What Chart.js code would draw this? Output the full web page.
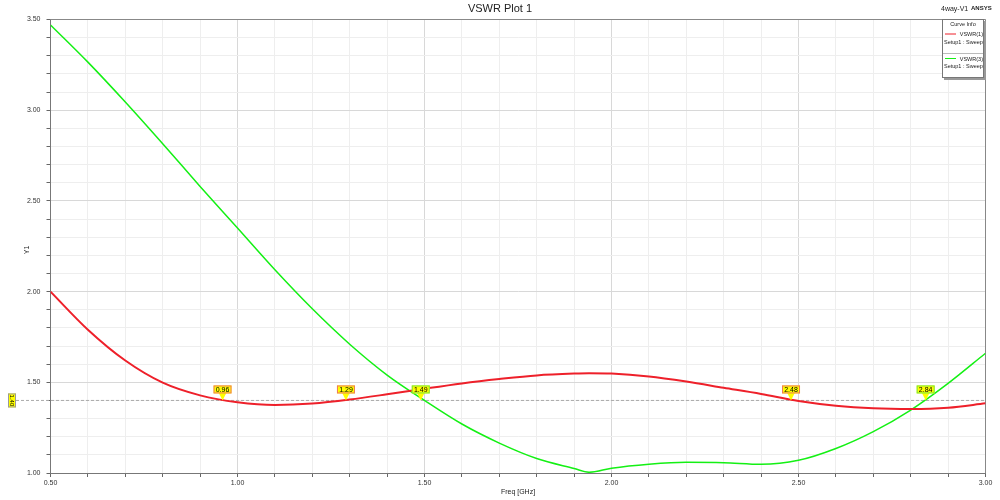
<!DOCTYPE html>
<html>
<head>
<meta charset="utf-8">
<script src="https://cdn.jsdelivr.net/npm/chart.js@4.4.0/dist/chart.umd.min.js"></script>
<style>
  body { margin: 0; background: #fff; }
  #wrap { width: 1000px; height: 500px; }
</style>
</head>
<body>
<div id="wrap"><canvas id="vswrChart" width="1000" height="500"></canvas></div>
<script>
// Frekans noktaları (GHz)
const freqs = [0.5, 0.6, 0.7, 0.8, 0.9, 1.0, 1.1, 1.2, 1.3, 1.4, 1.5, 1.6, 1.7, 1.8, 1.9, 1.94,
               2.0, 2.1, 2.2, 2.3, 2.4, 2.5, 2.6, 2.7, 2.8, 2.9, 3.0];
// VSWR(1) - kırmızı
const vswr1 = [2.00, 1.79, 1.62, 1.498, 1.428, 1.39, 1.375, 1.383, 1.405, 1.434, 1.465, 1.494, 1.518, 1.538, 1.548, 1.55,
               1.548, 1.532, 1.504, 1.47, 1.436, 1.397, 1.371, 1.357, 1.353, 1.36, 1.384];
// VSWR(3) - yeşil
const vswr3 = [3.47, 3.265, 3.045, 2.815, 2.58, 2.35, 2.12, 1.905, 1.71, 1.54, 1.40, 1.27, 1.165, 1.08, 1.025, 1.004,
               1.026, 1.048, 1.059, 1.057, 1.048, 1.07, 1.135, 1.228, 1.347, 1.494, 1.66];
// Marker'lar (VSWR = 1.40 kesişimleri)
const markerLevel = 1.40;
const markerFreqs = [0.96, 1.29, 1.49, 2.48, 2.84];
const markerCurve = ['VSWR(1)', 'VSWR(1)', 'VSWR(3)', 'VSWR(1)', 'VSWR(3)'];

const RED = 'rgb(238, 32, 42)';
const GREEN = 'rgb(20, 240, 20)';
const FONT = '"Liberation Sans", Arial, sans-serif';

const isMajor = (v) => Math.abs(v * 2 - Math.round(v * 2)) < 1e-6;

const overlay = {
    id: 'overlay',
    beforeDatasetsDraw(chart) {
        const { ctx, chartArea: a, scales } = chart;
        ctx.save();
        // üst ve sağ çerçeve
        ctx.strokeStyle = '#888';
        ctx.lineWidth = 1;
        ctx.beginPath();
        ctx.moveTo(a.left, a.top);
        ctx.lineTo(a.right, a.top);
        ctx.lineTo(a.right, a.bottom);
        ctx.stroke();
        // 1.40 referans çizgisi
        const yl = scales.y.getPixelForValue(markerLevel);
        ctx.strokeStyle = '#aaa';
        ctx.setLineDash([3, 2]);
        ctx.beginPath();
        ctx.moveTo(16, yl);
        ctx.lineTo(a.right, yl);
        ctx.stroke();
        ctx.restore();
    },
    afterDatasetsDraw(chart) {
        const { ctx, scales } = chart;
        const yl = scales.y.getPixelForValue(markerLevel);
        ctx.save();
        ctx.font = '7px ' + FONT;
        ctx.textAlign = 'center';
        ctx.textBaseline = 'middle';
        markerFreqs.forEach((f, i) => {
            const x = scales.x.getPixelForValue(f);
            const edge = markerCurve[i] === 'VSWR(1)' ? 'rgb(240,120,90)' : 'rgb(120,230,60)';
            // üçgen
            ctx.fillStyle = '#ffff00';
            ctx.beginPath();
            ctx.moveTo(x - 4, yl - 8);
            ctx.lineTo(x + 4, yl - 8);
            ctx.lineTo(x, yl);
            ctx.closePath();
            ctx.fill();
            // kutu
            ctx.fillRect(x - 9, yl - 15, 18, 8);
            ctx.strokeStyle = edge;
            ctx.lineWidth = 1;
            ctx.strokeRect(x - 9 + 0.5, yl - 15 + 0.5, 17, 7);
            ctx.fillStyle = '#000';
            ctx.fillText(f.toFixed(2), x, yl - 10.5);
        });
        // sol taraftaki 1.40 etiketi
        ctx.fillStyle = '#ffff00';
        ctx.fillRect(8, yl - 7, 8, 14);
        ctx.strokeStyle = '#999';
        ctx.strokeRect(8.5, yl - 6.5, 7, 13);
        ctx.translate(12, yl);
        ctx.rotate(Math.PI / 2);
        ctx.fillStyle = '#000';
        ctx.font = '6px ' + FONT;
        ctx.fillText(markerLevel.toFixed(2), 0, 0.5);
        ctx.restore();
    },
    afterDraw(chart) {
        const { ctx, chartArea: a } = chart;
        ctx.save();
        ctx.fillStyle = '#222';
        ctx.textBaseline = 'middle';
        // başlık
        ctx.font = '11px ' + FONT;
        ctx.textAlign = 'center';
        ctx.fillText('VSWR Plot 1', 500, 9);
        ctx.font = '7px ' + FONT;
        ctx.textAlign = 'left';
        ctx.fillText('4way-V1', 941, 9.5);
        ctx.font = 'bold 6px ' + FONT;
        ctx.fillText('ANSYS', 971, 8);
        // eksen başlıkları
        ctx.font = '7px ' + FONT;
        ctx.textAlign = 'center';
        ctx.fillText('Freq [GHz]', (a.left + a.right) / 2, 492);
        ctx.save();
        ctx.translate(27, 250);
        ctx.rotate(-Math.PI / 2);
        ctx.fillText('Y1', 0, 0);
        ctx.restore();
        // Curve Info kutusu
        const bx = 942, by = 19, bw = 42, bh = 59;
        ctx.fillStyle = '#999';
        ctx.fillRect(bx + 2, by + 2, bw, bh);
        ctx.fillStyle = '#fff';
        ctx.fillRect(bx, by, bw, bh);
        ctx.strokeStyle = '#777';
        ctx.strokeRect(bx + 0.5, by + 0.5, bw - 1, bh - 1);
        ctx.strokeStyle = '#bbb';
        ctx.beginPath();
        ctx.moveTo(bx + 1, by + 34.5);
        ctx.lineTo(bx + bw - 1, by + 34.5);
        ctx.stroke();
        ctx.fillStyle = '#222';
        ctx.font = '5.5px ' + FONT;
        ctx.textAlign = 'center';
        ctx.fillText('Curve Info', bx + bw / 2, by + 5.5);
        const entries = [['VSWR(1)', RED, by + 15], ['VSWR(3)', GREEN, by + 39.5]];
        entries.forEach(([name, col, yy]) => {
            ctx.strokeStyle = col;
            ctx.lineWidth = 1;
            ctx.beginPath();
            ctx.moveTo(bx + 3, yy);
            ctx.lineTo(bx + 14, yy);
            ctx.stroke();
            ctx.fillStyle = '#222';
            ctx.textAlign = 'right';
            ctx.fillText(name, bx + bw - 1, yy + 0.5);
            ctx.textAlign = 'left';
            ctx.fillText('Setup1 : Sweep', bx + 2, yy + 8);
        });
        ctx.restore();
    }
};

const gridColor = (c) => (c.tick && isMajor(c.tick.value) ? '#d8d8d8' : '#eeeeee');

new Chart(document.getElementById('vswrChart').getContext('2d'), {
    type: 'line',
    data: {
        datasets: [{
            label: 'VSWR(1)',
            data: freqs.map((f, i) => ({ x: f, y: vswr1[i] })),
            borderColor: RED,
            borderWidth: 2,
            pointRadius: 0,
            cubicInterpolationMode: 'monotone'
        }, {
            label: 'VSWR(3)',
            data: freqs.map((f, i) => ({ x: f, y: vswr3[i] })),
            borderColor: GREEN,
            borderWidth: 1.5,
            pointRadius: 0,
            cubicInterpolationMode: 'monotone'
        }]
    },
    options: {
        responsive: false,
        animation: false,
        layout: { padding: { top: 19.5, right: 14.5, left: 0, bottom: 0 } },
        plugins: {
            legend: { display: false },
            title: { display: false },
            tooltip: { enabled: false }
        },
        scales: {
            x: {
                type: 'linear',
                min: 0.5,
                max: 3.0,
                afterFit: (s) => { s.height = 27; },
                ticks: {
                    stepSize: 0.1,
                    autoSkip: false,
                    maxRotation: 0,
                    padding: 2,
                    color: '#333',
                    font: { family: FONT, size: 7 },
                    callback: (v) => (isMajor(v) ? Number(v).toFixed(2) : '')
                },
                grid: { color: gridColor, tickColor: '#666', tickLength: 4 },
                border: { color: '#777', width: 1 }
            },
            y: {
                min: 1.0,
                max: 3.5,
                afterFit: (s) => { s.width = 50.5; },
                ticks: {
                    stepSize: 0.1,
                    autoSkip: false,
                    padding: 6,
                    color: '#333',
                    font: { family: FONT, size: 7 },
                    callback: (v) => (isMajor(v) ? Number(v).toFixed(2) : '')
                },
                grid: { color: gridColor, tickColor: '#666', tickLength: 4 },
                border: { color: '#777', width: 1 }
            }
        }
    },
    plugins: [overlay]
});
</script>
</body>
</html>
